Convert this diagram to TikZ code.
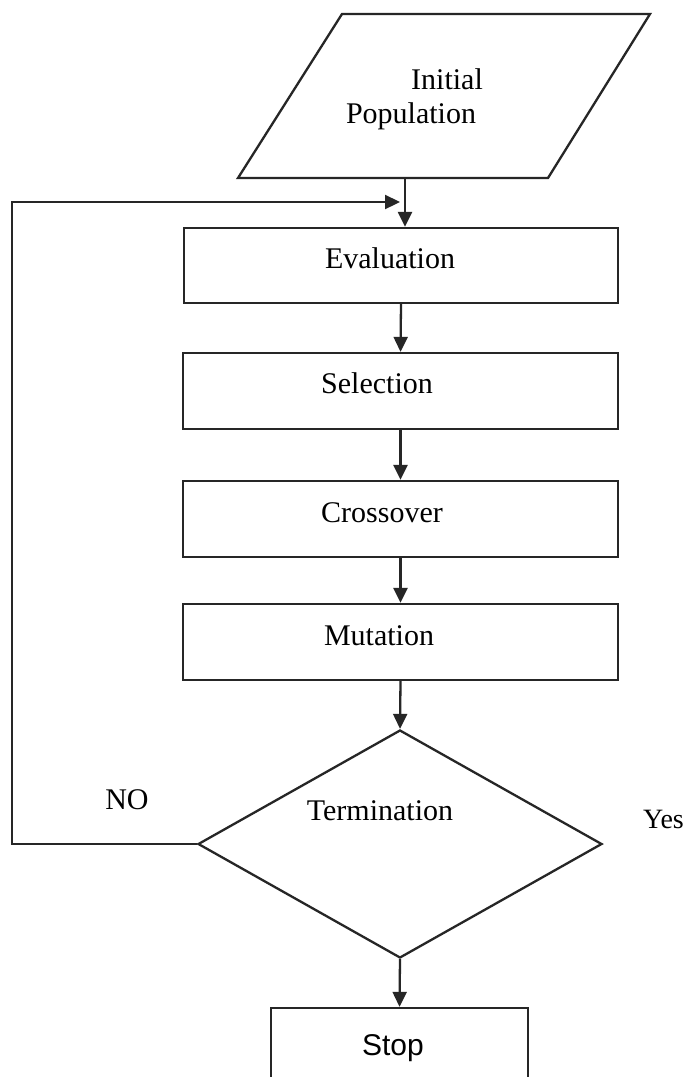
\documentclass[tikz,border=0pt]{standalone}
\usepackage{fontspec}
\setmainfont{Liberation Serif}
\newfontfamily\stopfont{Liberation Sans}
\usetikzlibrary{shapes.geometric,arrows.meta,calc}
\definecolor{linec}{HTML}{262626}
\begin{document}
\begin{tikzpicture}[x=1pt,y=-1pt,line width=2.3pt,
  box/.style={draw=linec,line width=2.3pt,rectangle,inner sep=0pt,minimum width=435pt,minimum height=76pt},
  txt/.style={anchor=base,inner sep=0pt,font=\fontsize{30}{36}\selectfont},
  arr/.style={draw=linec,line width=2.3pt,-{Triangle[length=15pt,width=14pt]}}]
\clip (0,0) rectangle (687,1077);
\fill[white] (0,0) rectangle (687,1077);
% initial population (parallelogram)
\draw[linec,line width=2.3pt] (342,14) -- (650,14) -- (548,178) -- (238,178) -- cycle;
\node[txt] (tinit) at (447,89) {Initial};
\node[txt] (tpop) at (411,123) {Population};
\coordinate (pbot) at (405,178);
% process boxes
\node[box,minimum width=434pt,minimum height=75pt] (eval) at (401,265.5) {};
\node[box] (sel) at (400.5,391) {};
\node[box] (cross) at (400.5,519) {};
\node[box] (mut) at (400.5,642) {};
\node[txt] (teval) at (390,268) {Evaluation};
\node[txt] (tsel) at (377,393) {Selection};
\node[txt] (tcross) at (382,522) {Crossover};
\node[txt] (tmut) at (379,645) {Mutation};
% decision
\node[draw=linec,line width=2.3pt,diamond,inner sep=0pt,minimum width=404pt,minimum height=228pt] (term) at (400,844) {};
\node[txt] (tterm) at (380,820) {Termination};
\node[txt] (tno) at (127,809) {NO};
\node[txt,anchor=base east,font=\fontsize{28}{34}\selectfont] (tyes) at (685,828) {Yes};
% stop
\node[draw=linec,line width=2.3pt,rectangle,inner sep=0pt,minimum width=257pt,minimum height=84pt] (stop) at (399.5,1050) {};
\node[txt,font=\stopfont\fontsize{30}{36}\selectfont] (tstop) at (393,1055) {Stop};
% connectors
\draw[arr] (pbot) -- (pbot |- eval.north);
\draw[arr] (eval.south) -- (sel.north);
\draw[arr] (sel.south) -- (cross.north);
\draw[arr] (cross.south) -- (mut.north);
\draw[arr] (mut.south) -- (term.north);
\draw[arr] (term.south) -- (stop.north);
\coordinate (lc1) at (12,844);
\coordinate (lc2) at (12,202);
\coordinate (lend) at (400,202);
\draw[arr] (term.west) -- (lc1) -- (lc2) -- (lend);
\end{tikzpicture}
\end{document}
